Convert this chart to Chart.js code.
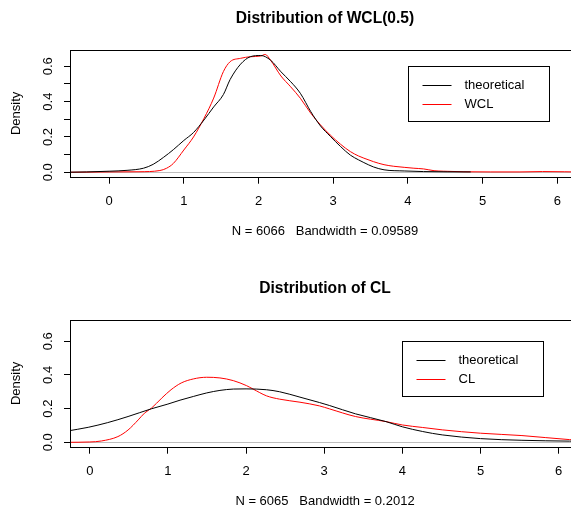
<!DOCTYPE html>
<html>
<head>
<meta charset="utf-8">
<script src="https://cdn.jsdelivr.net/npm/chart.js@4/dist/chart.umd.min.js"></script>
<style>
    html, body { margin: 0; padding: 0; background: #fff; width: 571px; height: 514px; overflow: hidden; }
    .panel { position: absolute; left: 0; width: 600px; height: 257px; }
    #panel1 { top: 0; }
    #panel2 { top: 270px; }
</style>
</head>
<body>
<div class="panel" id="panel1"><canvas id="wcl-chart" width="600" height="257"></canvas></div>
<div class="panel" id="panel2"><canvas id="cl-chart" width="600" height="257"></canvas></div>

<script>
    // 上图: WCL(0.5) 的分布
    const wclTheoX = [-0.6, -0.3, 0, 0.24, 0.46, 0.59, 0.73, 0.86, 1.0, 1.13, 1.27, 1.4, 1.53, 1.62, 1.76, 1.89, 2.03, 2.16, 2.3, 2.43, 2.56, 2.7, 2.83, 2.96, 3.1, 3.23, 3.34, 3.41, 3.54, 3.68, 3.95, 4.21, 4.84];
    const wclTheoY = [0, 0.002, 0.006, 0.011, 0.023, 0.045, 0.085, 0.128, 0.18, 0.225, 0.296, 0.37, 0.44, 0.525, 0.612, 0.654, 0.661, 0.635, 0.569, 0.513, 0.447, 0.343, 0.262, 0.204, 0.145, 0.097, 0.07, 0.055, 0.03, 0.014, 0.0075, 0.004, 0.002];
    const wclX = [-0.6, 0, 0.4, 0.68, 0.77, 0.86, 1.0, 1.13, 1.27, 1.4, 1.53, 1.62, 1.76, 1.89, 2.03, 2.09, 2.16, 2.3, 2.43, 2.56, 2.7, 2.83, 2.96, 3.1, 3.23, 3.34, 3.41, 3.54, 3.68, 3.81, 3.95, 4.08, 4.21, 4.35, 4.48, 4.75, 5.11, 5.5, 5.8, 6.4];
    const wclY = [0, 0.002, 0.003, 0.01, 0.023, 0.05, 0.126, 0.2, 0.305, 0.42, 0.57, 0.626, 0.645, 0.654, 0.658, 0.667, 0.635, 0.545, 0.484, 0.419, 0.334, 0.268, 0.211, 0.158, 0.117, 0.092, 0.08, 0.06, 0.043, 0.034, 0.028, 0.023, 0.019, 0.009, 0.006, 0.003, 0.002, 0.002, 0.004, 0.001];

    // 下图: CL 的分布
    const clTheoX = [-0.3, -0.02, 0.23, 0.49, 0.79, 1.0, 1.155, 1.325, 1.496, 1.666, 1.837, 2.0, 2.26, 2.43, 2.69, 2.94, 3.07, 3.4, 3.79, 4.0, 4.26, 4.51, 5.0, 5.53, 6.14, 6.4];
    const clTheoY = [0.066, 0.089, 0.117, 0.153, 0.199, 0.227, 0.25, 0.272, 0.293, 0.308, 0.316, 0.317, 0.312, 0.3, 0.268, 0.236, 0.218, 0.169, 0.123, 0.092, 0.064, 0.044, 0.022, 0.012, 0.007, 0.005];
    const clX = [-0.3, 0, 0.15, 0.36, 0.49, 0.62, 0.7, 0.79, 0.92, 1.04, 1.17, 1.325, 1.496, 1.666, 1.837, 2.007, 2.09, 2.26, 2.43, 2.69, 2.94, 3.07, 3.4, 3.79, 4.0, 4.26, 4.51, 5.0, 5.53, 6.14, 6.4];
    const clY = [0, 0.002, 0.008, 0.034, 0.073, 0.133, 0.173, 0.203, 0.262, 0.312, 0.352, 0.376, 0.386, 0.382, 0.366, 0.336, 0.316, 0.276, 0.256, 0.238, 0.216, 0.198, 0.153, 0.123, 0.103, 0.088, 0.074, 0.054, 0.04, 0.016, 0.01];

    function toPoints(xs, ys) {
        return xs.map((x, i) => ({ x: x, y: ys[i] }));
    }

    // 边框、零线和图例 (R 风格)
    const rStylePlugin = {
        id: 'rStyle',
        beforeDatasetsDraw(chart) {
            const ctx = chart.ctx;
            const area = chart.chartArea;
            const y0 = Math.round(chart.scales.y.getPixelForValue(0)) + 0.5;
            ctx.save();
            ctx.strokeStyle = '#bebebe';
            ctx.lineWidth = 1;
            ctx.beginPath();
            ctx.moveTo(area.left, y0);
            ctx.lineTo(area.right, y0);
            ctx.stroke();
            ctx.restore();
        },
        afterDraw(chart) {
            const ctx = chart.ctx;
            const area = chart.chartArea;
            ctx.save();
            ctx.strokeStyle = '#000';
            ctx.lineWidth = 1;
            ctx.strokeRect(Math.round(area.left) - 0.5, Math.round(area.top) + 0.5,
                Math.round(area.right - area.left), Math.round(area.bottom - area.top));

            // 图例放在 (4, 0.6)
            const left = Math.round(chart.scales.x.getPixelForValue(4)) + 0.5;
            const top = Math.round(chart.scales.y.getPixelForValue(0.6)) + 0.5;
            ctx.fillStyle = '#fff';
            ctx.fillRect(left, top, 141, 55);
            ctx.strokeRect(left, top, 141, 55);
            ctx.font = '13px "Liberation Sans", Arial, sans-serif';
            ctx.textBaseline = 'middle';
            chart.data.datasets.forEach((ds, i) => {
                const ly = Math.round(top + 18.5 + i * 18.7) + 0.5;
                ctx.strokeStyle = ds.borderColor;
                ctx.beginPath();
                ctx.moveTo(left + 14, ly);
                ctx.lineTo(left + 43, ly);
                ctx.stroke();
                ctx.fillStyle = '#000';
                ctx.fillText(ds.label, left + 56, ly);
            });
            ctx.restore();
        }
    };

    function makeChart(canvasId, title, subtitle, redLabel, theoPts, redPts, xMin, xMax, yMin, yMax) {
        return new Chart(document.getElementById(canvasId), {
            type: 'line',
            data: {
                datasets: [
                    { label: 'theoretical', data: theoPts, borderColor: '#000', borderWidth: 1, pointRadius: 0, cubicInterpolationMode: 'monotone', fill: false },
                    { label: redLabel, data: redPts, borderColor: '#ff0000', borderWidth: 1, pointRadius: 0, cubicInterpolationMode: 'monotone', fill: false }
                ]
            },
            options: {
                responsive: false,
                animation: false,
                layout: { padding: { left: 0, right: 21, top: 0, bottom: 0 } },
                plugins: {
                    legend: { display: false },
                    tooltip: { enabled: false },
                    title: {
                        display: true,
                        text: title,
                        fullSize: false,
                        color: '#000',
                        font: { size: 15.6, weight: 'bold' },
                        padding: { top: 9.6, bottom: 21.7 }
                    }
                },
                scales: {
                    x: {
                        type: 'linear',
                        min: xMin,
                        max: xMax,
                        border: { display: false },
                        grid: { drawOnChartArea: false, drawTicks: true, tickLength: 7, color: '#000' },
                        ticks: { stepSize: 1, includeBounds: false, padding: 10, color: '#000', font: { size: 13 } },
                        title: { display: true, text: subtitle, color: '#000', font: { size: 13 }, padding: { top: 0, bottom: 18.2 } },
                        afterFit: scale => { scale.height = 80.3; }
                    },
                    y: {
                        min: yMin,
                        max: yMax,
                        border: { display: false },
                        grid: { drawOnChartArea: false, drawTicks: true, tickLength: 7, color: '#000' },
                        ticks: {
                            stepSize: 0.1,
                            includeBounds: false,
                            minRotation: 90,
                            maxRotation: 90,
                            crossAlign: 'center',
                            padding: 7,
                            color: '#000',
                            font: { size: 13 },
                            callback: v => (Math.round(v * 10) % 2 === 0 ? v.toFixed(1) : '')
                        },
                        title: { display: true, text: 'Density', color: '#000', font: { size: 13 }, padding: { top: 8.2, bottom: 0 } },
                        afterFit: scale => { scale.width = 71; }
                    }
                }
            },
            plugins: [rStylePlugin]
        });
    }

    Chart.defaults.font.family = '"Liberation Sans", Arial, sans-serif';
    Chart.defaults.color = '#000';

    makeChart('wcl-chart', 'Distribution of WCL(0.5)', 'N = 6066   Bandwidth = 0.09589', 'WCL',
        toPoints(wclTheoX, wclTheoY), toPoints(wclX, wclY), -0.51, 6.29, -0.025, 0.692);
    makeChart('cl-chart', 'Distribution of CL', 'N = 6065   Bandwidth = 0.2012', 'CL',
        toPoints(clTheoX, clTheoY), toPoints(clX, clY), -0.24, 6.26, -0.026, 0.7256);
</script>
</body>
</html>
